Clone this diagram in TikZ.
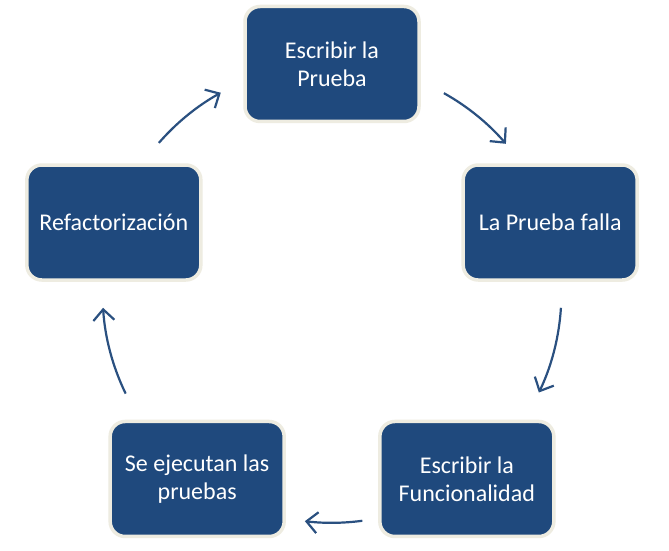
\documentclass[tikz,border=0pt]{standalone}
\usepackage{fontspec}
\setmainfont{Carlito}
\usetikzlibrary{arrows.meta}
\definecolor{boxblue}{HTML}{1F497D}
\definecolor{boxrim}{HTML}{EEECE1}
\definecolor{arrblue}{HTML}{2A5080}
\tikzset{
  stepbox/.style={rectangle, rounded corners=15pt, fill=boxblue, draw=boxrim,
    line width=3.5pt, minimum width=174pt, minimum height=115pt,
    text=white, align=center, font=\fontsize{24}{28}\selectfont},
  cyclearr/.style={draw=arrblue, line width=2.2pt,
    -{Straight Barb[length=11pt,width=21pt,line width=2.2pt]}}
}
\begin{document}
\begin{tikzpicture}[x=1pt,y=1pt]
\useasboundingbox[fill=white] (0,0) rectangle (669,551);
\coordinate (c) at (332,257.6);
% the five steps of the cycle
\node[stepbox] (prueba) at ([shift={(90:229.4pt)}]c) {Escribir la\\Prueba};
\node[stepbox] (falla) at ([shift={(18:229.4pt)}]c) {La Prueba falla};
\node[stepbox] (func) at ([shift={(-54:229.4pt)}]c) {Escribir la\\Funcionalidad};
\node[stepbox] (ejec) at ([shift={(-126:229.4pt)}]c) {Se ejecutan las\\pruebas};
\node[stepbox] (refac) at ([shift={(162:229.4pt)}]c) {Refactorización};
% arrows on the circle, clockwise
\foreach \s/\e in {60.8/40.7, -3.6/-25.6, -82.4/-96.8, 205.9/183.6, 139/119}{
    \draw[cyclearr] ([shift={(\s:229.4pt)}]c) arc[start angle=\s, end angle=\e, radius=229.4pt];
}
\end{tikzpicture}
\end{document}
